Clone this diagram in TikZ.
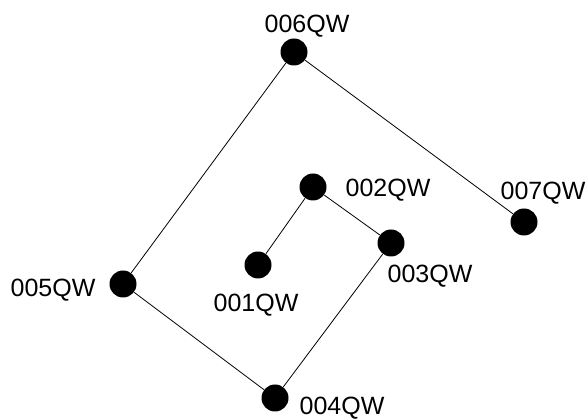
\documentclass[tikz,border=0pt]{standalone}
\usepackage{fontspec}
\setmainfont{Liberation Sans}
\begin{document}
\begin{tikzpicture}[x=1pt,y=-1pt,
  dot/.style={circle,fill=black,inner sep=0pt,minimum size=27pt},
  lbl/.style={anchor=base,inner sep=0pt,font=\fontsize{25}{28}\selectfont},
  link/.style={draw=black,line width=0.8pt}]
\useasboundingbox (0,0) rectangle (587,419);
\node[dot] (n1) at (258,265) {};
\node[dot] (n2) at (313,187) {};
\node[dot] (n3) at (391,243) {};
\node[dot] (n4) at (275,398) {};
\node[dot] (n5) at (123,284) {};
\node[dot] (n6) at (294,52) {};
\node[dot] (n7) at (524,222) {};
\node[lbl] (l1) at (256,312) {001QW};
\node[lbl] (l2) at (388,197) {002QW};
\node[lbl] (l3) at (430,283) {003QW};
\node[lbl] (l4) at (342,415) {004QW};
\node[lbl] (l5) at (53,297) {005QW};
\node[lbl] (l6) at (307,33) {006QW};
\node[lbl] (l7) at (543,200) {007QW};
\draw[link] (n1) -- (n2) -- (n3) -- (n4) -- (n5) -- (n6) -- (n7);
\end{tikzpicture}
\end{document}
